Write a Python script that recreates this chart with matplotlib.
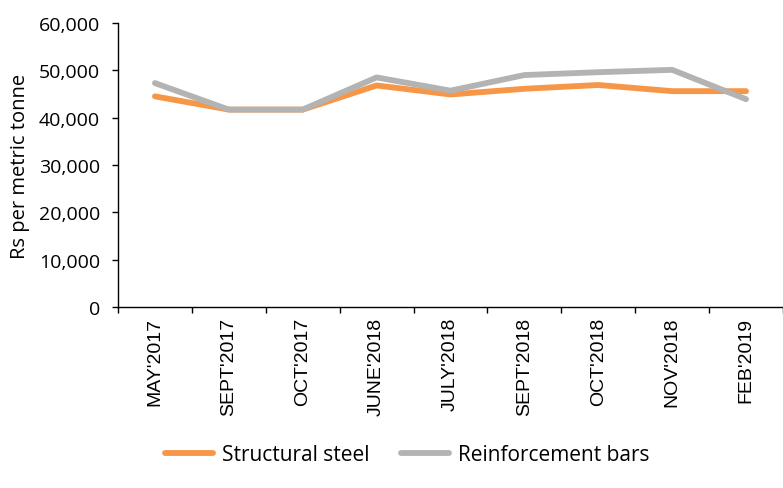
import numpy as np
import matplotlib
matplotlib.use("Agg")
import matplotlib.pyplot as plt
from matplotlib.ticker import FuncFormatter

# Data
months = ["MAY'2017", "SEPT'2017", "OCT'2017", "JUNE'2018", "JULY'2018",
          "SEPT'2018", "OCT'2018", "NOV'2018", "FEB'2019"]
structural_steel = [44500, 41700, 41700, 46800, 44900, 46100, 46900, 45600, 45600]
reinforcement_bars = [47300, 41700, 41700, 48500, 45700, 49000, 49600, 50100, 43900]

fig = plt.figure(figsize=(7.83, 4.89), dpi=100)
ax = fig.add_axes([0.1507, 0.370, 0.8493, 0.581])

x = np.arange(len(months))
ax.plot(x, structural_steel, color="#F79646", lw=4.2, solid_capstyle="round",
        solid_joinstyle="round", label="Structural steel")
ax.plot(x, reinforcement_bars, color="#B3B3B3", lw=4.2, solid_capstyle="round",
        solid_joinstyle="round", label="Reinforcement bars")

ax.set_xlim(-0.5, len(months) - 0.5)
ax.set_ylim(0, 60000)
ax.set_yticks(np.arange(0, 60001, 10000))
ax.yaxis.set_major_formatter(FuncFormatter(lambda v, p: f"{int(v):,}"))
for t in ax.get_yticklabels():
    t.set_family("Open Sans")
    t.set_fontsize(14)

# ticks between categories, labels centred on categories
ax.set_xticks(np.arange(-0.5, len(months), 1.0))
ax.set_xticklabels([])
ax.set_xticks(x, minor=True)
ax.set_xticklabels(months, minor=True, rotation=90, family="Liberation Sans", fontsize=14)
ax.tick_params(axis="x", which="minor", length=0, pad=7)
ax.tick_params(axis="x", which="major", length=4, width=1)
ax.tick_params(axis="y", length=4, width=1, pad=9)

ax.set_ylabel("Rs per metric tonne", family="Open Sans", fontsize=14.5, labelpad=6)

for s in ["top", "right"]:
    ax.spines[s].set_visible(False)
for s in ["left", "bottom"]:
    ax.spines[s].set_linewidth(1)

fig.legend(loc="center", bbox_to_anchor=(0.52, 0.068), ncol=2, frameon=False,
           prop={"family": "Open Sans", "size": 15}, handlelength=2.3,
           columnspacing=1.5, handletextpad=0.45)

fig.savefig("out.png", dpi=100)
